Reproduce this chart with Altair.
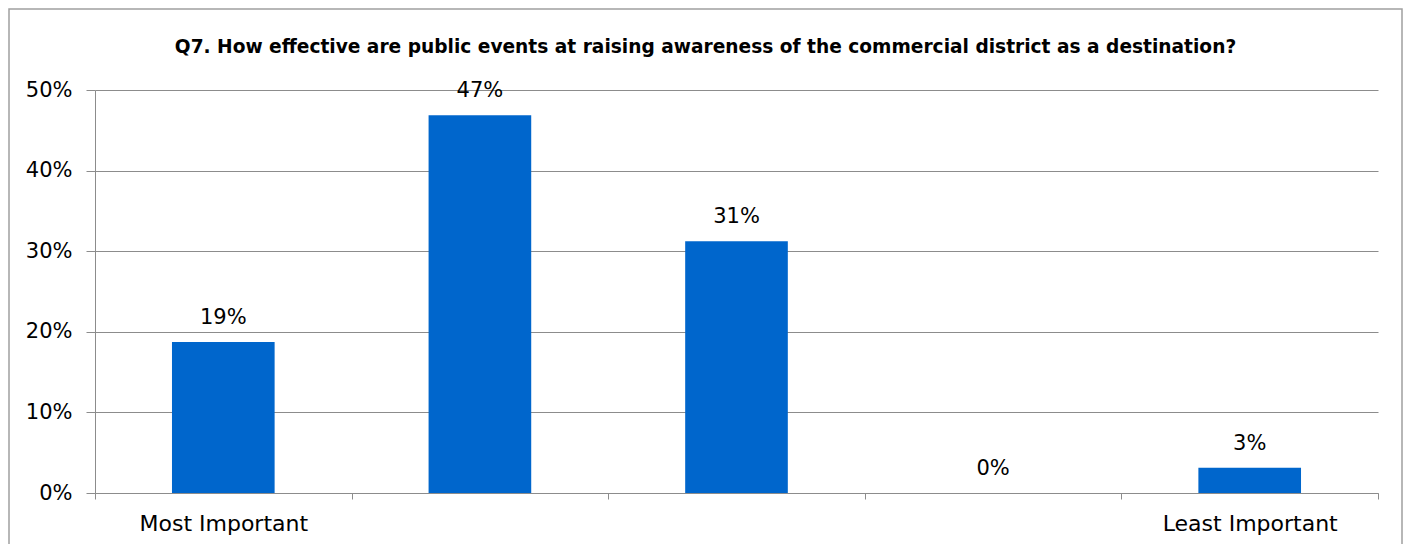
import altair as alt
import pandas as pd

categories = ["Most Important", "", "", "", "Least Important"]
values = [0.1875, 0.46875, 0.3125, 0.0, 0.03125]
value_labels = ["19%", "47%", "31%", "0%", "3%"]
y_ticks = [0, 0.1, 0.2, 0.3, 0.4, 0.5]
title_text = "Q7. How effective are public events at raising awareness of the commercial district as a destination?"

df = pd.DataFrame({
    "idx": list(range(len(categories))),
    "category": categories,
    "value": values,
    "label": value_labels,
})
df["x0"] = df["idx"] + 0.3
df["x1"] = df["idx"] + 0.7
df["xc"] = df["idx"] + 0.5

W, H = 1283, 403
FONT = "DejaVu Sans"
GRAY = "#8c8c8c"

cat_expr = "datum.value == 0 ? 'Most Important' : (datum.value == 4 ? 'Least Important' : '')"

x_scale = alt.Scale(domain=[0, len(categories)], nice=False, zero=False, padding=0)
y_scale = alt.Scale(domain=[0, 0.5], nice=False, padding=0)

bars = alt.Chart(df).mark_bar(color="#0066CC").encode(
    x=alt.X("x0:Q", scale=x_scale,
            axis=alt.Axis(values=list(range(len(categories) + 1)), labelExpr=cat_expr,
                          title=None, grid=False, tickSize=6, tickColor=GRAY,
                          domainColor=GRAY, labelFontSize=22, labelColor="#000000",
                          labelFont=FONT, labelPadding=14, labelOffset=W / 10,
                          labelAlign="center", labelOverlap=False, labelFlush=False,
                          labelBound=False)),
    x2="x1:Q",
    y=alt.Y("value:Q", scale=y_scale,
            axis=alt.Axis(values=y_ticks, format=".0%", title=None, grid=True,
                          gridColor=GRAY, gridWidth=1, tickSize=9, tickColor=GRAY,
                          domainColor=GRAY, labelFontSize=21, labelColor="#000000",
                          labelFont=FONT, labelPadding=14)),
    y2=alt.datum(0),
)

texts = alt.Chart(df).mark_text(fontSize=21, font=FONT, color="#000000",
                                baseline="alphabetic", dy=-18).encode(
    x=alt.X("xc:Q", scale=x_scale),
    y=alt.Y("value:Q", scale=y_scale),
    text="label:N",
)

frame = alt.Chart(df.head(1)).mark_rect(fill=None, stroke="#a0a0a0", strokeWidth=1.5).encode(
    x=alt.value(-86), x2=alt.value(W + 24), y=alt.value(-81), y2=alt.value(H + 70)
)

chart = alt.layer(frame, bars, texts).properties(
    width=W, height=H,
    title=alt.TitleParams(title_text, fontSize=18.6, font=FONT, fontWeight="bold",
                          color="#000000", anchor="middle", dx=-31, offset=-48),
    autosize=alt.AutoSizeParams(type="none"),
    padding={"left": 87, "top": 82, "right": 26, "bottom": 51},
).configure_view(stroke=None)

chart.save("out.html", embed_options={"renderer": "svg", "actions": False})
